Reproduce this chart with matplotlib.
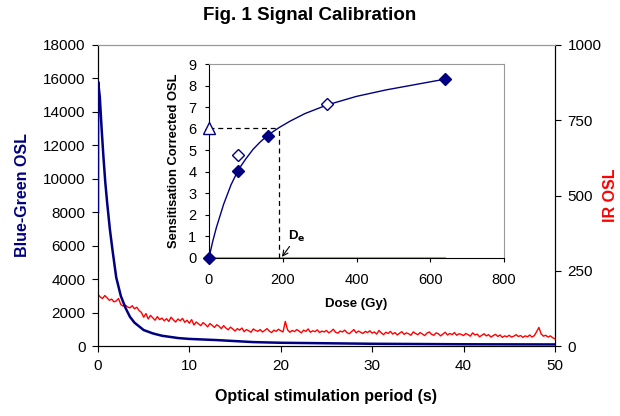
import numpy as np
from matplotlib import pyplot as plt

plt.rcParams['font.family'] = ['Liberation Sans', 'DejaVu Sans']

# Blue-green OSL decay (left axis)
t_blue = [0, 0.02, 0.2, 0.4, 0.6, 0.8, 1.0, 1.3, 1.6, 2.0, 2.5, 3.0, 3.5, 4.0,
          5.0, 6.0, 7.0, 8.8, 10.0, 13.0, 17.0, 20.0, 25.0, 30.0, 40.0, 50.0]
blue_osl = [8000, 15800, 14900, 13000, 11300, 9800, 8600, 7000, 5700, 4100, 3000,
            2300, 1750, 1400, 960, 760, 620, 480, 430, 360, 240, 200, 170, 140, 110, 100]

# IR OSL (right axis), 0.25 s channels
t_red = np.arange(0, 50.01, 0.25)
ir_osl = [
    172, 163, 158, 168, 160, 152, 156, 147, 150, 158, 138, 133, 136, 130, 127, 134, 124, 129, 118, 112,
    96, 108, 90, 102, 94, 86, 98, 88, 93, 84, 91, 82, 96, 87, 80, 90, 84, 92, 79, 86,
    76, 88, 70, 80, 74, 68, 78, 72, 64, 75, 69, 62, 71, 66, 58, 68, 60, 54, 63, 57,
    50, 58, 53, 60, 48, 55, 51, 46, 57, 52, 49, 55, 47, 52, 58, 50, 45, 53, 49, 56,
    51, 47, 82, 54, 46, 52, 48, 55, 50, 44, 53, 49, 57, 46, 51, 48, 54, 45, 50, 47,
    52, 44, 49, 56, 46, 43, 50, 47, 53, 45, 41, 48, 55, 44, 50, 46, 42, 49, 45, 51,
    43, 47, 40, 52, 44, 38, 46, 42, 49, 40, 45, 37, 43, 48, 39, 44, 41, 36, 47, 42,
    38, 45, 40, 35, 43, 47, 39, 36, 44, 41, 34, 40, 46, 37, 42, 38, 45, 36, 41, 39,
    35, 42, 38, 33, 44, 37, 40, 31, 36, 41, 34, 38, 30, 35, 39, 32, 37, 29, 34, 31,
    36, 30, 33, 38, 32, 35, 29, 34, 31, 37, 30, 35, 48, 62, 40, 33, 36, 30, 34, 28,
    24]

# Inset: dose response
dose_fill = [0, 80, 160, 640]
osl_fill = [0, 4.05, 5.65, 8.3]
dose_open = [80, 320]
osl_open = [4.8, 7.15]
natural = 6.05
de = 190
fit_dose = [0, 10, 20, 40, 60, 80, 100, 120, 140, 160, 190, 220, 260, 320, 400, 480, 560, 640]
fit_osl = [0, 0.75, 1.4, 2.5, 3.4, 4.1, 4.6, 5.05, 5.4, 5.7, 6.05, 6.35, 6.7, 7.1, 7.5, 7.8, 8.05, 8.3]

fig = plt.figure(figsize=(6.2, 4.16), dpi=100)
ax = fig.add_axes([0.158, 0.168, 0.737, 0.724])
ax.plot(t_blue, blue_osl, color='#000080', lw=1.8, zorder=3)
ax.set_xlim(0, 50)
ax.set_ylim(0, 18000)
ax.set_xticks(range(0, 51, 10))
ax.set_yticks(range(0, 18001, 2000))
ax.tick_params(labelsize=11, direction='out', length=4, pad=5)
ax.set_xlabel('Optical stimulation period (s)', fontsize=11.5, fontweight='bold', labelpad=12)
ax.set_ylabel('Blue-Green OSL', fontsize=11.5, fontweight='bold', color='#000080', labelpad=9)
ax.spines['top'].set_color('#999999')

ax2 = ax.twinx()
ax2.plot(t_red, ir_osl, color='red', lw=1.0, zorder=2)
ax2.set_ylim(0, 1000)
ax2.set_yticks([0, 250, 500, 750, 1000])
ax2.tick_params(labelsize=11, direction='out', length=4, pad=5)
ax2.set_ylabel('IR OSL', fontsize=11.5, fontweight='bold', color='red', labelpad=1)
ax2.spines['top'].set_color('#999999')
ax.set_zorder(ax2.get_zorder() + 1)
ax.patch.set_visible(False)

fig.text(0.5, 0.962, 'Fig. 1 Signal Calibration', fontsize=13.5, fontweight='bold',
         ha='center', va='center')

# inset
ins = fig.add_axes([0.337, 0.380, 0.476, 0.466])
ins.set_zorder(10)
ins.plot(fit_dose, fit_osl, color='#000080', lw=1.0)
ins.plot([0, 640], [0, 0], color='#99cc00', lw=1.5)
ins.plot([0, de], [natural, natural], color='black', lw=0.9, ls='--', dashes=(4, 3))
ins.plot([de, de], [0, natural], color='black', lw=0.9, ls='--', dashes=(4, 3))
ins.plot(dose_fill, osl_fill, 'D', color='#000080', ms=6, ls='none', clip_on=False, zorder=5)
ins.plot(dose_open, osl_open, 'D', mfc='white', mec='#000080', ms=6, ls='none', zorder=5)
ins.plot([0], [natural], '^', mfc='white', mec='#000080', ms=8, ls='none', clip_on=False, zorder=5)
ins.annotate('D$_\\mathbf{e}$', xy=(de + 8, 0.05), xytext=(215, 0.85),
             fontsize=9.5, fontweight='bold',
             arrowprops=dict(arrowstyle='->', color='black', lw=0.8, shrinkA=0, shrinkB=0))
ins.set_xlim(0, 800)
ins.set_ylim(0, 9)
ins.set_xticks(range(0, 801, 200))
ins.set_yticks(range(0, 10))
ins.tick_params(labelsize=10.5, direction='out', length=3)
ins.tick_params(axis='x', pad=8)
ins.tick_params(axis='y', pad=6)
ins.set_xlabel('Dose (Gy)', fontsize=9.5, fontweight='bold', labelpad=8)
ins.set_ylabel('Sensitisation Corrected OSL', fontsize=9.3, fontweight='bold', labelpad=6)
ins.spines['top'].set_color('#999999')
ins.spines['right'].set_color('#999999')

plt.savefig('out.png', dpi=100)
